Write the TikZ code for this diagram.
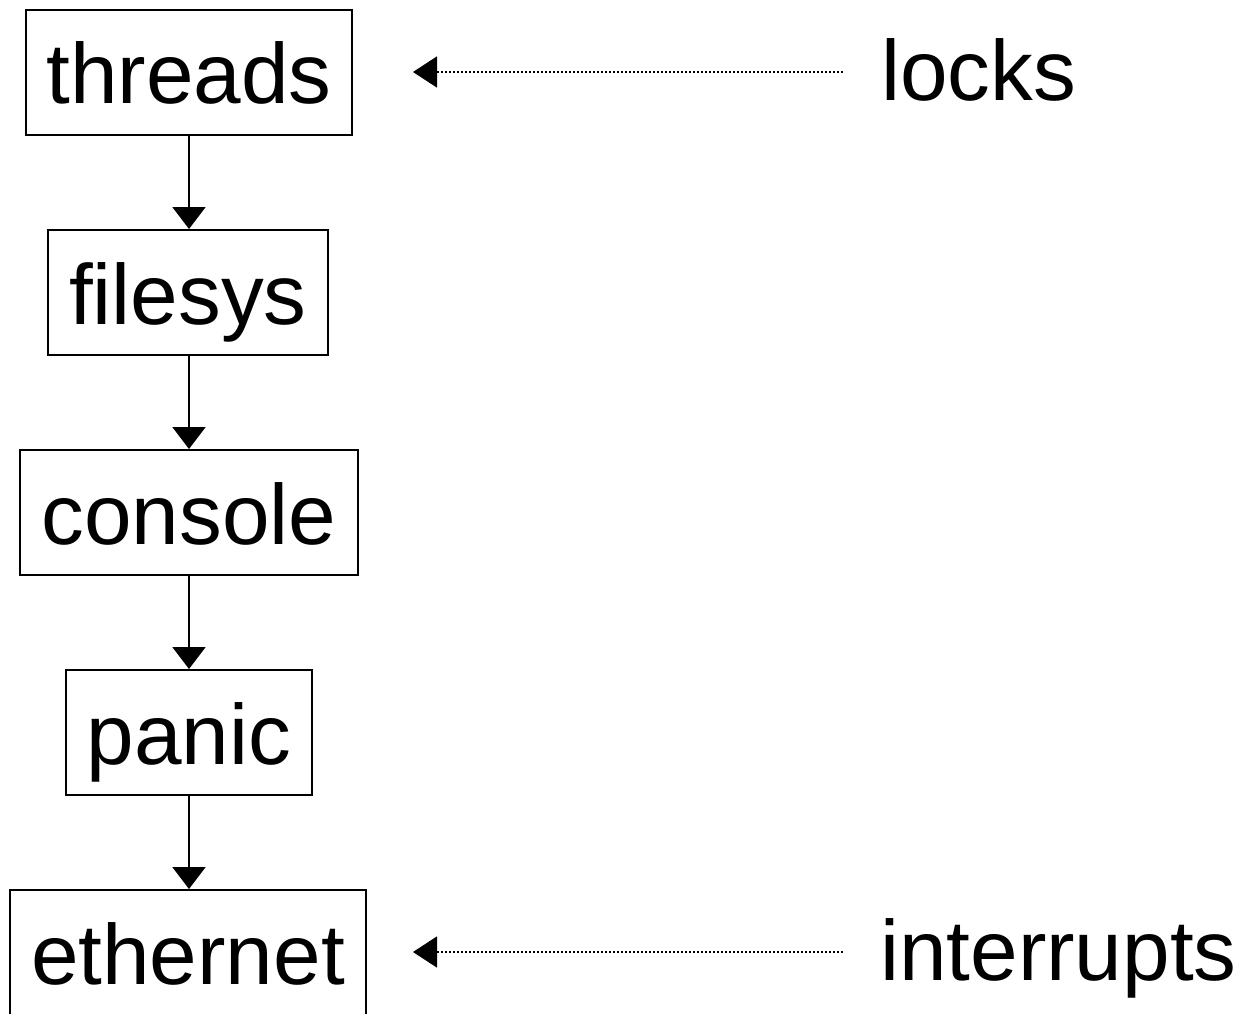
\documentclass[tikz,border=0pt]{standalone}
\usepackage{fontspec}
\setmainfont{Liberation Sans}
\usetikzlibrary{arrows.meta}
\begin{document}
\begin{tikzpicture}[x=1pt,y=-1pt,
  box/.style={draw,line width=2pt,inner sep=0pt,minimum height=125pt,
    text height=83pt,text depth=20pt,font=\fontsize{85.5}{100}\selectfont},
  lbl/.style={inner sep=0pt,anchor=base west,font=\fontsize{85.5}{100}\selectfont},
  flow/.style={line width=2pt,-{Triangle[length=22pt,width=33pt]}},
  dep/.style={line width=1.5pt,dash pattern=on 2pt off 2pt,-{Triangle[length=24pt,width=31pt]}}]
\clip (0,0) rectangle (1239,1014);
\fill[white] (0,0) rectangle (1239,1014);
\node[box,minimum width=326pt] (threads) at (189,72.5) {threads};
\node[box,minimum width=280pt] (filesys) at (188,292.5) {filesys};
\node[box,minimum width=338pt] (console) at (189,512.5) {console};
\node[box,minimum width=246pt] (panic) at (189,732.5) {panic};
\node[box,minimum width=356pt] (ethernet) at (188,952.5) {ethernet};
\draw[flow] (threads.south) -- (threads.south |- filesys.north);
\draw[flow] (filesys.south -| threads.south) -- (threads.south |- console.north);
\draw[flow] (console.south) -- (console.south |- panic.north);
\draw[flow] (panic.south) -- (panic.south |- ethernet.north);
\node[lbl] (locks) at (881,101) {locks};
\node[lbl] (interrupts) at (880,980) {interrupts};
\coordinate (ls) at (843,72);
\coordinate (le) at (413,72);
\coordinate (is) at (843,952);
\coordinate (ie) at (413,952);
\draw[dep] (ls) -- (le);
\draw[dep] (is) -- (ie);
\end{tikzpicture}
\end{document}
